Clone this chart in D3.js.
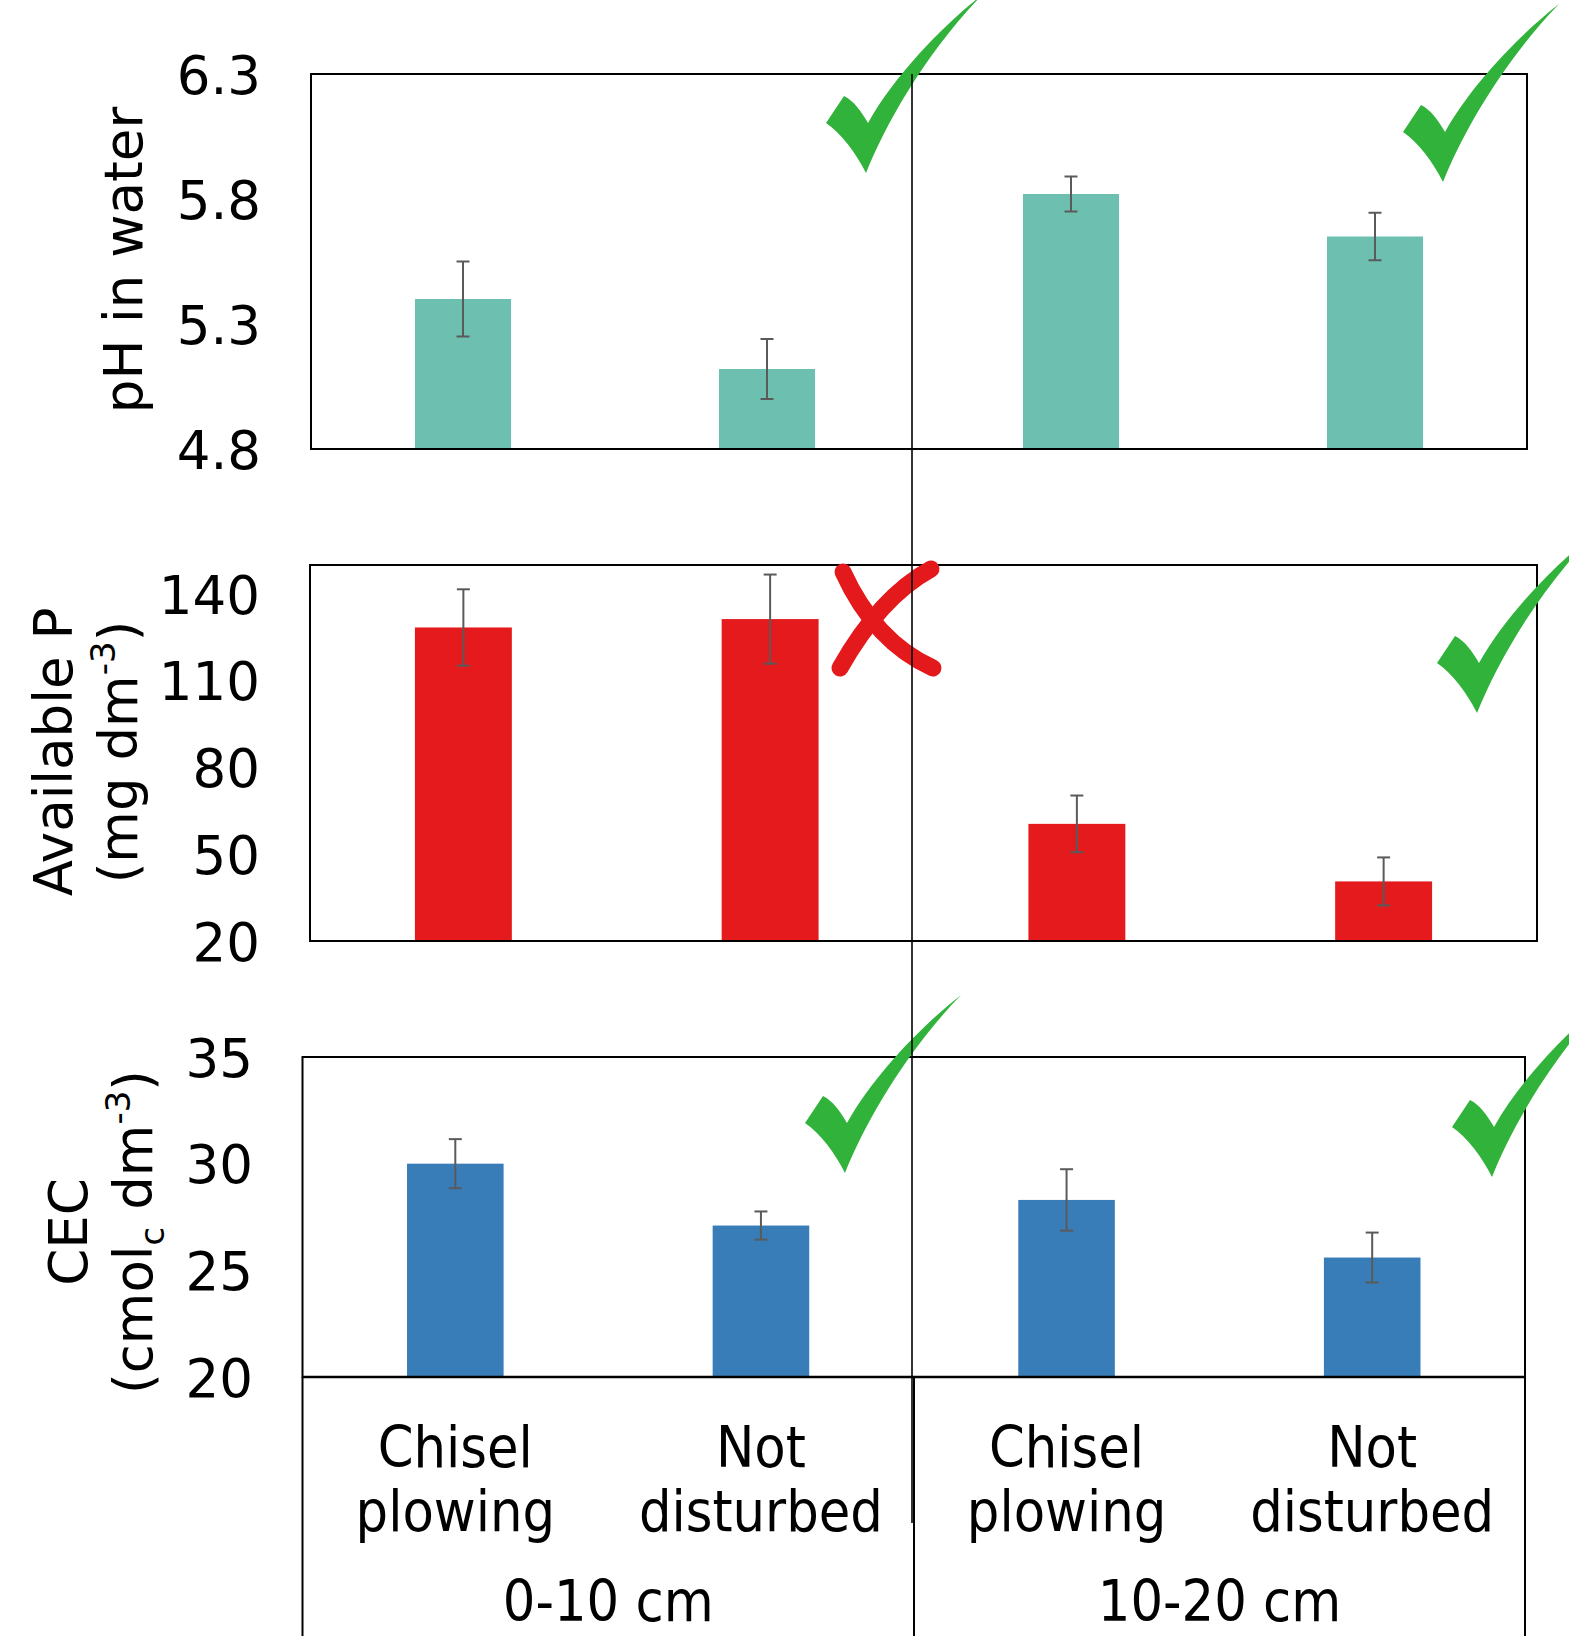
<!DOCTYPE html>
<html><head><meta charset="utf-8">
<script src="https://cdn.jsdelivr.net/npm/d3@7"></script>
<style>body{margin:0;background:#fff}svg{display:block}</style>
</head><body>
<script>
// ---- data ----
const depths = ["0-10 cm", "10-20 cm"];
const treatments = ["Chisel plowing", "Not disturbed"];
const categories = ["0-10|Chisel plowing", "0-10|Not disturbed", "10-20|Chisel plowing", "10-20|Not disturbed"];
const phValues = [5.40, 5.12, 5.82, 5.65];
const phErrors = [0.15, 0.12, 0.07, 0.095];
const phTicks = [4.8, 5.3, 5.8, 6.3];
const pValues = [128.4, 131.3, 60.5, 40.6];
const pErrors = [13.2, 15.4, 9.8, 8.3];
const pTicks = [20, 50, 80, 110, 140];
const cecValues = [30.0, 27.1, 28.3, 25.6];
const cecErrors = [1.15, 0.66, 1.44, 1.17];
const cecTicks = [20, 25, 30, 35];
// significance marks per panel per depth: true = check, false = cross
const phSignificant = [true, true];
const pSignificant = [false, true];
const cecSignificant = [true, true];

const W = 1569, H = 1636;
const FONT = "'DejaVu Sans', Verdana, sans-serif";
const CFONT = "'DejaVu Sans Condensed', 'DejaVu Sans', sans-serif";
const svg = d3.select("body").append("svg").attr("width", W).attr("height", H);

const panels = [
  {values: phValues, errors: phErrors, ticks: phTicks, domain: [4.8, 6.3], fmt: d3.format(".1f"),
   x0: 311, x1: 1527, y0: 74, y1: 449, color: "#6dbfb0", labelRight: 261,
   title: [{t: "pH in water", x: 142}], titleY: 260, sig: phSignificant,
   marks: [[866, 173], [1443, 182]]},
  {values: pValues, errors: pErrors, ticks: pTicks, domain: [20, 150], fmt: d3.format("d"),
   x0: 310, x1: 1537, y0: 565, y1: 941, color: "#e41a1c", labelRight: 260,
   title: [{t: "Available P", x: 72}, {t: "(mg dm", sup: "-3", end: ")", x: 137}], titleY: 752, sig: pSignificant,
   marks: [[877, 622], [1477, 713]]},
  {values: cecValues, errors: cecErrors, ticks: cecTicks, domain: [20, 35], fmt: d3.format("d"),
   x0: 302.5, x1: 1525, y0: 1057, y1: 1377, color: "#397db8", labelRight: 253,
   title: [{t: "CEC", x: 87}, {t: "(cmol", sub: "c", t2: " dm", sup: "-3", end: ")", x: 152}], titleY: 1232, sig: cecSignificant,
   marks: [[845, 1173], [1492, 1177]]}
];

const checkPath = "M0,0 C20,-50 60,-120 116,-178 C80,-150 30,-100 2,-50 C-5,-62 -12,-72 -22,-77 L-40,-50 C-25,-40 -10,-20 0,0 Z";

const markLayer = [];

panels.forEach(p => {
  const g = svg.append("g");
  const x = d3.scaleBand().domain(categories).range([p.x0, p.x1]).paddingInner(0.684).paddingOuter(0.342);
  const y = d3.scaleLinear().domain(p.domain).range([p.y1, p.y0]);

  // bars
  g.selectAll("rect.bar").data(p.values).join("rect")
    .attr("x", (d, i) => x(categories[i]))
    .attr("width", x.bandwidth())
    .attr("y", d => y(d))
    .attr("height", d => y(p.domain[0]) - y(d))
    .attr("fill", p.color);

  // error bars
  const eb = g.selectAll("g.eb").data(p.values).join("g")
    .attr("stroke", "#5a5a5a").attr("stroke-width", 2);
  eb.append("line")
    .attr("x1", (d, i) => x(categories[i]) + x.bandwidth() / 2)
    .attr("x2", (d, i) => x(categories[i]) + x.bandwidth() / 2)
    .attr("y1", (d, i) => y(d + p.errors[i]))
    .attr("y2", (d, i) => y(d - p.errors[i]));
  [1, -1].forEach(s => {
    eb.append("line")
      .attr("x1", (d, i) => x(categories[i]) + x.bandwidth() / 2 - 6.5)
      .attr("x2", (d, i) => x(categories[i]) + x.bandwidth() / 2 + 6.5)
      .attr("y1", (d, i) => y(d + s * p.errors[i]))
      .attr("y2", (d, i) => y(d + s * p.errors[i]));
  });

  // frame
  g.append("rect").attr("x", p.x0).attr("y", p.y0)
    .attr("width", p.x1 - p.x0).attr("height", p.y1 - p.y0)
    .attr("fill", "none").attr("stroke", "#000").attr("stroke-width", 2);

  // y axis
  const ax = g.append("g").attr("transform", `translate(${p.x0},0)`)
    .call(d3.axisLeft(y).tickValues(p.ticks).tickFormat(p.fmt).tickSize(0).tickPadding(p.x0 - p.labelRight));
  ax.select(".domain").remove();
  ax.selectAll("text").attr("font-family", FONT).attr("font-size", 53).attr("fill", "#000").attr("dy", "0.36em");

  // title
  p.title.forEach(tl => {
    const t = g.append("text")
      .attr("transform", `translate(${tl.x},${p.titleY}) rotate(-90)`)
      .attr("text-anchor", "middle").attr("font-family", FONT).attr("font-size", 53).attr("fill", "#000");
    t.append("tspan").text(tl.t);
    if (tl.sub) {
      t.append("tspan").attr("font-size", 34).attr("dy", 12).text(tl.sub);
      t.append("tspan").attr("dy", -12).text(tl.t2);
    }
    if (tl.sup) {
      t.append("tspan").attr("font-size", 34).attr("dy", -22).text(tl.sup);
      t.append("tspan").attr("dy", 22).text(tl.end);
    }
  });

  p.sig.forEach((s, i) => markLayer.push({ok: s, pos: p.marks[i]}));
});

// category axis box (bottom)
const last = panels[2];
const xb = d3.scaleBand().domain(categories).range([last.x0, last.x1]).paddingInner(0.684).paddingOuter(0.342);
const bottom = svg.append("g");
bottom.append("line").attr("x1", last.x0).attr("x2", last.x1).attr("y1", last.y1).attr("y2", last.y1)
  .attr("stroke", "#000").attr("stroke-width", 2.5);
[last.x0, 914, last.x1].forEach(xx => {
  bottom.append("line").attr("x1", xx).attr("x2", xx).attr("y1", last.y1).attr("y2", H)
    .attr("stroke", "#000").attr("stroke-width", 2);
});
categories.forEach((c, i) => {
  const words = treatments[i % 2].split(" ");
  const cx = xb(c) + xb.bandwidth() / 2;
  words.forEach((w, j) => {
    bottom.append("text").attr("x", cx).attr("y", 1467 + j * 64)
      .attr("text-anchor", "middle").attr("font-family", CFONT).attr("font-stretch", "condensed")
      .attr("font-size", 57).attr("fill", "#000").text(w);
  });
});
const groupCenters = [(last.x0 + 914) / 2, (914 + last.x1) / 2];
depths.forEach((d, i) => {
  bottom.append("text").attr("x", groupCenters[i]).attr("y", 1621)
    .attr("text-anchor", "middle").attr("font-family", CFONT).attr("font-stretch", "condensed")
    .attr("font-size", 57).attr("fill", "#000").text(d);
});

// significance marks
markLayer.forEach(m => {
  if (m.ok) {
    svg.append("path").attr("d", checkPath)
      .attr("transform", `translate(${m.pos[0]},${m.pos[1]})`)
      .attr("fill", "#31b33b");
  } else {
    const gx = svg.append("g").attr("transform", `translate(${m.pos[0]},${m.pos[1]})`)
      .attr("fill", "none").attr("stroke", "#e3191c").attr("stroke-width", 17).attr("stroke-linecap", "round");
    gx.append("path").attr("d", "M-34,-50 Q-2,20 56,46");
    gx.append("path").attr("d", "M54,-53 Q3,-25 -37,46");
  }
});

// long vertical divider
svg.append("line").attr("x1", 912).attr("x2", 912).attr("y1", 74).attr("y2", 1523)
  .attr("stroke", "#000").attr("stroke-width", 1.6);
</script>
</body></html>
